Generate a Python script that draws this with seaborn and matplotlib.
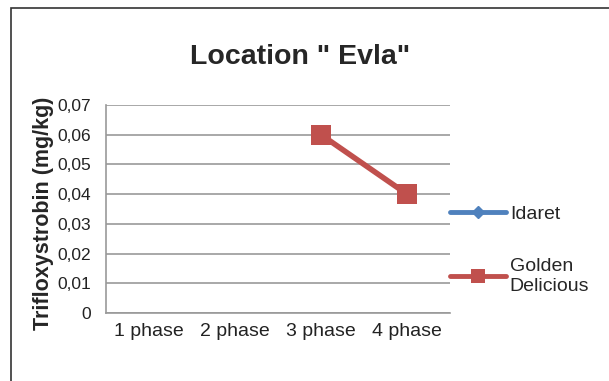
import numpy as np
import pandas as pd
import matplotlib
matplotlib.use("Agg")
import matplotlib.pyplot as plt
from matplotlib.lines import Line2D
from matplotlib.patches import Rectangle
import seaborn as sns

sns.set_style("white")
plt.rcParams['font.family'] = ['Liberation Sans', 'DejaVu Sans']

# Data
phases = ["1 phase", "2 phase", "3 phase", "4 phase"]
idaret = [np.nan, np.nan, np.nan, np.nan]
golden = [np.nan, np.nan, 0.06, 0.04]
yticks = [0, 0.01, 0.02, 0.03, 0.04, 0.05, 0.06, 0.07]

blue = "#4F81BD"
red = "#C0504D"

df = pd.DataFrame({"pos": np.arange(len(phases)), "Idaret": idaret, "Golden Delicious": golden})

fig = plt.figure(figsize=(6.09, 3.81), dpi=100)
fig.patches.append(Rectangle((11 / 609, -0.05), 1.1, 1 - 8 / 381 + 0.05, transform=fig.transFigure,
                             fill=False, edgecolor="#333333", linewidth=1.2))
ax = fig.add_axes([106 / 609, 1 - 313 / 381, 344 / 609, 208 / 381])

sns.lineplot(data=df.dropna(subset=["Idaret"]), x="pos", y="Idaret", ax=ax, color=blue,
             marker="D", markersize=8, linewidth=3.5)
sns.lineplot(data=df.dropna(subset=["Golden Delicious"]), x="pos", y="Golden Delicious", ax=ax,
             color=red, marker="s", markersize=14, markeredgewidth=0, linewidth=4)

ax.set_xlim(-0.5, len(phases) - 0.5)
ax.set_ylim(0, 0.07)
ax.set_xticks(np.arange(len(phases)))
ax.set_xticklabels(phases, fontsize=14, color="#222222")
ax.set_yticks(yticks)
ax.set_yticklabels([("%.2f" % v).replace(".", ",") if v else "0" for v in yticks],
                   fontsize=12.5, color="#222222")
ax.tick_params(axis="x", length=0, pad=7)
ax.tick_params(axis="y", length=0, pad=11)
ax.yaxis.grid(True, color="#9a9a9a", linewidth=1.2)
ax.xaxis.grid(False)
for side in ["top", "right"]:
    ax.spines[side].set_visible(False)
for side in ["left", "bottom"]:
    ax.spines[side].set_color("#999999")
    ax.spines[side].set_linewidth(1.2)
ax.set_xlabel("")
ax.set_ylabel("Trifloxystrobin (mg/kg)", fontsize=15.5, fontweight="bold")
ax.yaxis.set_label_coords(-0.152, 0.48)

fig.text(300 / 609, 1 - 57 / 381, 'Location " Evla"', fontsize=20.5, fontweight="bold",
         ha="center", va="center")

handles = [Line2D([], [], color=blue, marker="D", markersize=6, linewidth=3.5),
           Line2D([], [], color=red, marker="s", markersize=10, markeredgewidth=0, linewidth=3.5)]
fig.legend(handles, ["Idaret", "Golden\nDelicious"], loc="upper left",
           bbox_to_anchor=(432 / 609, 1 - 188 / 381), frameon=False, fontsize=14,
           handlelength=2.9, handletextpad=0.2, labelspacing=1.8)

fig.savefig("out.png", dpi=100)
